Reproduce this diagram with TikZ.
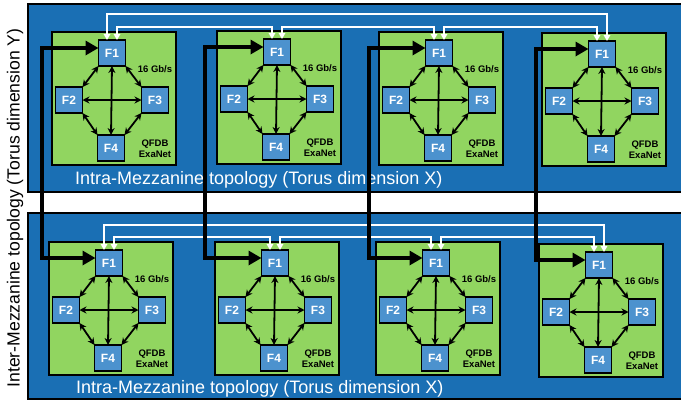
\documentclass[tikz,border=0pt]{standalone}
\usepackage{fontspec}
\setmainfont{Liberation Sans}
\usetikzlibrary{arrows.meta}
\definecolor{panelblue}{RGB}{26,111,180}
\definecolor{boardgreen}{RGB}{145,213,96}
\definecolor{fpgablue}{RGB}{76,146,206}
\tikzset{
  panel/.style={draw=black, line width=2pt, fill=panelblue},
  board/.style={draw=black, line width=1.2pt, fill=boardgreen, minimum width=124pt, minimum height=133pt, anchor=north west, inner sep=0pt, outer sep=0pt},
  fpga/.style={draw=black, line width=1.2pt, fill=fpgablue, minimum width=27pt, minimum height=26pt, inner sep=0pt, outer sep=0pt, text=white, font=\bfseries\fontsize{12}{12}\selectfont},
  smalllbl/.style={font=\bfseries\fontsize{9.5}{11}\selectfont, inner sep=0pt, align=center},
  link/.style={line width=1.8pt, {Stealth[length=7pt,width=7pt]}-{Stealth[length=7pt,width=7pt]}},
  ring/.style={draw=white, line width=1.5pt, {Triangle[length=6pt,width=6.5pt]}-{Triangle[length=6pt,width=6.5pt]}},
  inter/.style={line width=3.8pt, {Triangle[length=13pt,width=14pt]}-{Triangle[length=13pt,width=14pt]}},
  paneltext/.style={text=white, font=\fontsize{18}{18}\selectfont, anchor=base west, inner sep=0pt},
}
\newcommand\qfdb[3]{%
  \node[board] (#1) at (#2,#3) {};
  \node[fpga] (#1f1) at ([shift={(60pt,-21pt)}]#1.north west) {F1};
  \node[fpga] (#1f2) at ([shift={(17pt,-68pt)}]#1.north west) {F2};
  \node[fpga] (#1f3) at ([shift={(103pt,-68pt)}]#1.north west) {F3};
  \node[fpga] (#1f4) at ([shift={(59pt,-116pt)}]#1.north west) {F4};
  \draw[link] (#1f1.south) -- (#1f4.north);
  \draw[link] (#1f2.east) -- (#1f3.west);
  \draw[link] (#1f1.south west) -- (#1f2.north east);
  \draw[link] (#1f1.south east) -- (#1f3.north west);
  \draw[link] (#1f2.south east) -- (#1f4.north west);
  \draw[link] (#1f3.south west) -- (#1f4.north east);
  \node[smalllbl] (#1rate) at ([shift={(103pt,-37pt)}]#1.north west) {16 Gb/s};
  \node[smalllbl] (#1name) at ([shift={(103pt,-117pt)}]#1.north west) {QFDB\\ExaNet};
  \coordinate (#1L) at ([xshift=-5pt]#1f1.north);
  \coordinate (#1R) at ([xshift=5pt]#1f1.north);
  \coordinate (#1W) at ([yshift=5pt]#1f1.west);
}
\begin{document}
\begin{tikzpicture}[x=1pt,y=-1pt]
\useasboundingbox[fill=white] (0,0) rectangle (681,402);
% panels
\node[panel, anchor=north west, minimum width=654pt, minimum height=188pt, inner sep=0pt, outer sep=0pt] (toppanel) at (28,4) {};
\node[panel, anchor=north west, minimum width=654pt, minimum height=186pt, inner sep=0pt, outer sep=0pt] (botpanel) at (28,213) {};
\node[paneltext] (toptext) at (75,184) {Intra-Mezzanine topology (Torus dimension X)};
\node[paneltext] (bottext) at (76,393) {Intra-Mezzanine topology (Torus dimension X)};
\node[rotate=90, font=\fontsize{17.6}{18}\selectfont, inner sep=0pt] (sidetext) at (15,208) {Inter-Mezzanine topology (Torus dimension Y)};
% boards
\qfdb{ta}{52}{32}
\qfdb{tb}{217}{31}
\qfdb{tc}{379}{32}
\qfdb{td}{542}{33}
\qfdb{ba}{49}{242}
\qfdb{bb}{215}{242}
\qfdb{bc}{376}{242}
\qfdb{bd}{539}{244}
% ring levels
\coordinate (tout) at (0,14);
\coordinate (tin) at (0,27);
\coordinate (bout) at (0,225);
\coordinate (bin) at (0,237);
\draw[ring] (taL) -- (taL |- tout) -- (tdR |- tout) -- (tdR);
\draw[ring] (taR) -- (taR |- tin) -- (tbL |- tin) -- (tbL);
\draw[ring] (tbR) -- (tbR |- tin) -- (tcL |- tin) -- (tcL);
\draw[ring] (tcR) -- (tcR |- tin) -- (tdL |- tin) -- (tdL);
\draw[ring] (baL) -- (baL |- bout) -- (bdR |- bout) -- (bdR);
\draw[ring] (baR) -- (baR |- bin) -- (bbL |- bin) -- (bbL);
\draw[ring] (bbR) -- (bbR |- bin) -- (bcL |- bin) -- (bcL);
\draw[ring] (bcR) -- (bcR |- bin) -- (bdL |- bin) -- (bdL);
% inter-mezzanine columns
\coordinate (c1) at (42,200);
\coordinate (c2) at (205,200);
\coordinate (c3) at (369,200);
\coordinate (c4) at (536,200);
\draw[inter] (taW) -| (c1) |- (baW);
\draw[inter] (tbW) -| (c2) |- (bbW);
\draw[inter] (tcW) -| (c3) |- (bcW);
\draw[inter] (tdW) -| (c4) |- (bdW);
\end{tikzpicture}
\end{document}
